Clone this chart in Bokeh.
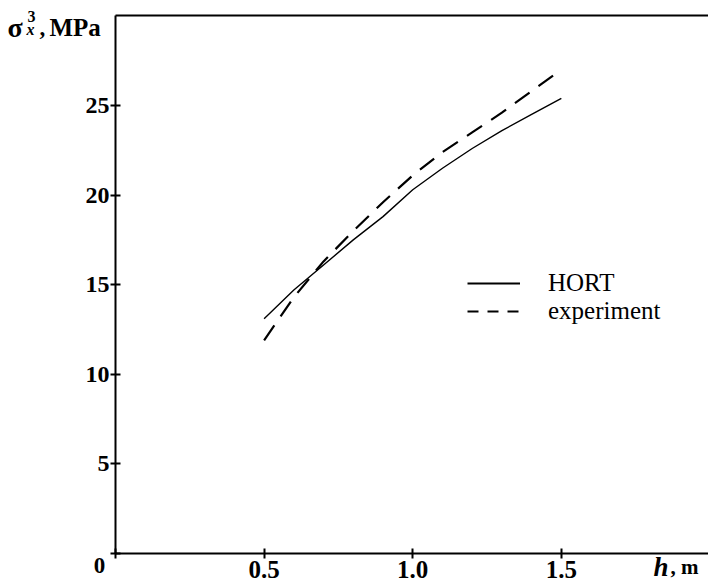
from bokeh.plotting import figure
from bokeh.models import (Range1d, FixedTicker, Label, Legend, LegendItem, LinearAxis)
from bokeh.embed import file_html
from bokeh.resources import INLINE

# ---- data ----
h = [0.5, 0.6, 0.7, 0.8, 0.9, 1.0, 1.1, 1.2, 1.3, 1.4, 1.5]
hort = [13.1, 14.7, 16.1, 17.5, 18.8, 20.3, 21.5, 22.6, 23.6, 24.5, 25.4]
experiment = [11.9, 14.3, 16.3, 18.0, 19.6, 21.1, 22.4, 23.5, 24.6, 25.8, 27.0]
x_ticks = [0, 0.5, 1.0, 1.5]
x_tick_labels = ["", "0.5", "1.0", "1.5"]
y_ticks = [0, 5, 10, 15, 20, 25]
y_tick_labels = ["", "5", "10", "15", "20", "25"]
series_names = ["HORT", "experiment"]
x_max = 1.995
y_max = 30

SERIF = "Liberation Serif"

p = figure(width=708, height=585, output_backend="svg", toolbar_location=None,
           x_range=Range1d(-0.3868, x_max), y_range=Range1d(-1.786, 30.86),
           x_axis_type=None, y_axis_type=None,
           min_border_left=0, min_border_right=0, min_border_top=0,
           min_border_bottom=0)
p.outline_line_color = None
p.background_fill_color = "white"
p.border_fill_color = "white"
p.grid.visible = False


def style_axis(ax, size):
    ax.axis_line_width = 2
    ax.axis_line_color = "black"
    ax.major_tick_line_width = 2
    ax.major_tick_line_color = "black"
    ax.major_tick_in = 5
    ax.major_tick_out = 5
    ax.minor_tick_line_color = None
    ax.major_label_text_font = SERIF
    ax.major_label_text_font_style = "bold"
    ax.major_label_text_font_size = size
    ax.major_label_text_color = "black"


xaxis = LinearAxis(fixed_location=0, bounds=(0, x_max),
                   ticker=FixedTicker(ticks=x_ticks),
                   major_label_overrides={t: l for t, l in zip(x_ticks, x_tick_labels)})
style_axis(xaxis, "25px")
xaxis.major_label_standoff = 3
p.add_layout(xaxis, "below")

yaxis = LinearAxis(fixed_location=0, bounds=(0, y_max),
                   ticker=FixedTicker(ticks=y_ticks),
                   major_label_overrides={t: l for t, l in zip(y_ticks, y_tick_labels)})
style_axis(yaxis, "24px")
yaxis.major_label_standoff = 1
p.add_layout(yaxis, "left")

# top frame line
topaxis = LinearAxis(fixed_location=y_max, bounds=(0, x_max),
                     ticker=FixedTicker(ticks=[]))
topaxis.axis_line_width = 2
topaxis.axis_line_color = "black"
topaxis.major_tick_line_color = None
topaxis.minor_tick_line_color = None
topaxis.major_label_text_color = None
p.add_layout(topaxis, "above")

r1 = p.line(h, hort, line_color="black", line_width=1.4)
r2 = p.line(h, experiment, line_color="black", line_width=2.2, line_dash="18 11")

# legend swatches (hidden renderers so the legend shows the reference's own swatch styles)
k1 = p.line(h, hort, line_color="black", line_width=2, visible=False)
k2 = p.line(h, experiment, line_color="black", line_width=2, line_dash="11 9", visible=False)

legend = Legend(items=[LegendItem(label=series_names[0], renderers=[k1]),
                       LegendItem(label=series_names[1], renderers=[k2])],
                location=(467, 260), orientation="vertical",
                glyph_width=53, glyph_height=20, label_height=20, spacing=0,
                label_standoff=28, padding=0, margin=0, click_policy="none",
                border_line_color=None, background_fill_alpha=0,
                label_text_font=SERIF, label_text_font_size="25px",
                label_text_color="black")
p.add_layout(legend)


def lab(text, x, y, dx, dy, size, style="bold", baseline="alphabetic", align="left"):
    p.add_layout(Label(x=x, y=y, x_offset=dx, y_offset=dy, text=text,
                       text_font=SERIF, text_font_style=style, text_font_size=size,
                       text_align=align, text_baseline=baseline, text_color="black"))


# corner "0"
lab("0", 0, 0, -16, -5, "23px", baseline="top", align="center")

# x axis title "h, m"
lab("h", 0, 0, 538, -14, "27px", style="bold italic")
lab(", m", 0, 0, 555, -14, "21px")

# y axis title "σ_x^3, MPa"
lab("σ", 0, y_max, -108, -12, "28px")
lab("3", 0, y_max, -88, -1, "16px")
lab("x", 0, y_max, -89, -14, "16px", style="bold italic")
lab(",", 0, y_max, -76, -12, "23px")
lab("MPa", 0, y_max, -66, -12, "25px")

open("out.html", "w").write(file_html(p, INLINE))
